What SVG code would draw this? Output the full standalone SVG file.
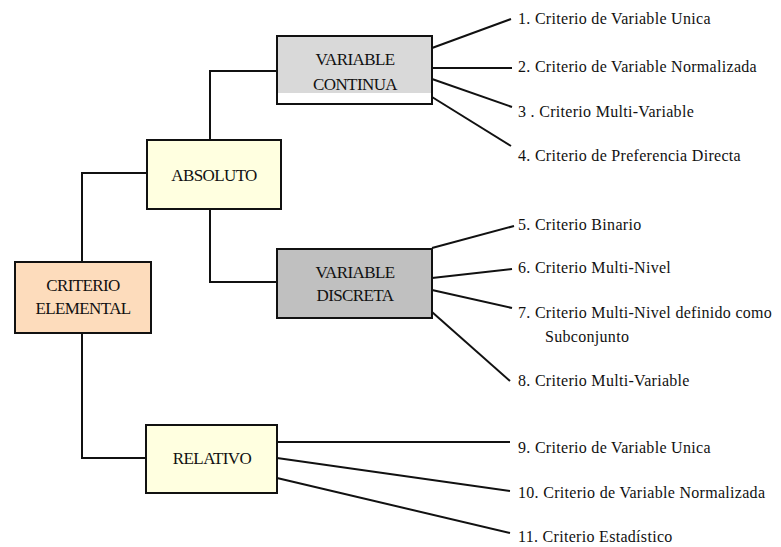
<svg xmlns="http://www.w3.org/2000/svg" width="781" height="547" viewBox="0 0 781 547">
  <style>
    .box { stroke: #111; stroke-width: 2; }
    .lbl { font-family: 'Liberation Serif', 'Times New Roman', 'DejaVu Serif', serif; font-size: 17px; letter-spacing: -0.6px; fill: #111; text-anchor: middle; }
    .item { font-family: 'Liberation Serif', 'Times New Roman', 'DejaVu Serif', serif; font-size: 16px; letter-spacing: 0.3px; fill: #111; }
    .wire { fill: none; stroke: #111; stroke-width: 2; }
  </style>
  <rect width="781" height="547" fill="#fff"/>

  <!-- connectors -->
  <g id="connectors">
    <polyline class="wire" points="82,262 82,173 147,173"/>
    <polyline class="wire" points="82,333 82,458 146,458"/>
    <polyline class="wire" points="210,140 210,71 277,71"/>
    <polyline class="wire" points="210,209 210,282 277,282"/>
    <!-- variable continua -->
    <line class="wire" x1="432" y1="48" x2="511" y2="19"/>
    <line class="wire" x1="432" y1="68" x2="512" y2="68"/>
    <line class="wire" x1="432" y1="79" x2="512" y2="107"/>
    <line class="wire" x1="432" y1="97" x2="511" y2="146"/>
    <!-- variable discreta -->
    <line class="wire" x1="432" y1="248" x2="514" y2="226"/>
    <line class="wire" x1="432" y1="278" x2="512" y2="269"/>
    <line class="wire" x1="432" y1="290" x2="512" y2="308"/>
    <line class="wire" x1="432" y1="312" x2="510" y2="381"/>
    <!-- relativo -->
    <line class="wire" x1="277" y1="442" x2="510" y2="442"/>
    <line class="wire" x1="277" y1="458" x2="510" y2="491"/>
    <line class="wire" x1="277" y1="478" x2="510" y2="533"/>
  </g>

  <g id="criterio-elemental">
    <rect class="box" x="15" y="262" width="136" height="71" fill="#FDDCBC"/>
    <text class="lbl" x="83" y="291">CRITERIO</text>
    <text class="lbl" x="83" y="314">ELEMENTAL</text>
  </g>

  <g id="absoluto">
    <rect class="box" x="147" y="140" width="134" height="69" fill="#FFFFE0"/>
    <text class="lbl" x="214" y="181">ABSOLUTO</text>
  </g>

  <g id="variable-continua">
    <rect x="277" y="36" width="155" height="68" fill="#fff"/>
    <rect x="277" y="36" width="155" height="57" fill="#D9D9D9"/>
    <rect class="box" x="277" y="36" width="155" height="68" fill="none"/>
    <text class="lbl" x="355" y="65">VARIABLE</text>
    <text class="lbl" x="355" y="90">CONTINUA</text>
  </g>

  <g id="variable-discreta">
    <rect class="box" x="277" y="249" width="155" height="69" fill="#C0C0C0"/>
    <text class="lbl" x="355" y="278">VARIABLE</text>
    <text class="lbl" x="355" y="301">DISCRETA</text>
  </g>

  <g id="relativo">
    <rect class="box" x="146" y="425" width="131" height="68" fill="#FFFFE0"/>
    <text class="lbl" x="212" y="464">RELATIVO</text>
  </g>

  <g id="items">
    <text class="item" x="518" y="24">1.  Criterio de Variable Unica</text>
    <text class="item" x="518" y="72">2.  Criterio de Variable Normalizada</text>
    <text class="item" x="518" y="117">3 . Criterio Multi-Variable</text>
    <text class="item" x="518" y="161">4.  Criterio de Preferencia Directa</text>
    <text class="item" x="518" y="230">5.  Criterio Binario</text>
    <text class="item" x="518" y="273">6. Criterio Multi-Nivel</text>
    <text class="item" x="518" y="318">7.  Criterio Multi-Nivel definido como</text>
    <text class="item" x="545" y="342">Subconjunto</text>
    <text class="item" x="518" y="386">8.  Criterio Multi-Variable</text>
    <text class="item" x="518" y="453">9.   Criterio de Variable Unica</text>
    <text class="item" x="518" y="498">10. Criterio de Variable Normalizada</text>
    <text class="item" x="518" y="542">11. Criterio Estadístico</text>
  </g>
</svg>
